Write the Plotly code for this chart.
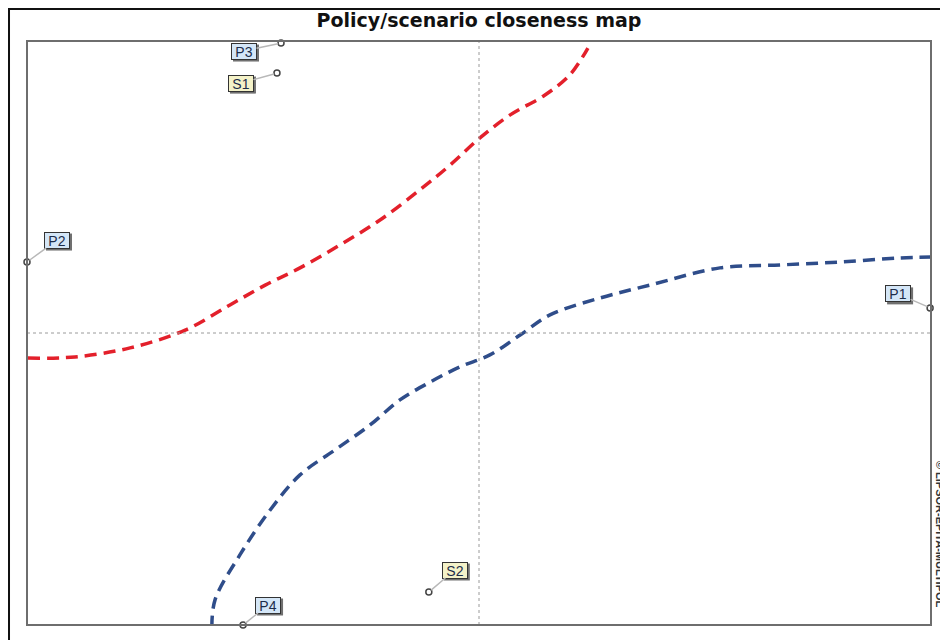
import plotly.graph_objects as go

# ---- data ----
point_names = ["P1", "P2", "P3", "P4", "S1", "S2"]
point_x = [0.998, -1.0, -0.438, -0.522, -0.447, -0.111]
point_y = [0.086, 0.243, 0.993, -1.0, 0.890, -0.887]

red_x = [-0.998, -0.894, -0.772, -0.650, -0.551, -0.473, -0.396, -0.308, -0.219,
         -0.131, -0.064, 0.002, 0.069, 0.146, 0.201, 0.241]
red_y = [-0.086, -0.082, -0.051, 0.010, 0.096, 0.164, 0.223, 0.301, 0.387,
         0.490, 0.575, 0.668, 0.747, 0.815, 0.884, 0.976]

blue_x = [-0.591, -0.584, -0.529, -0.462, -0.396, -0.319, -0.241, -0.175, -0.108,
          -0.042, 0.024, 0.091, 0.157, 0.268, 0.378, 0.533, 0.666, 0.799, 0.931, 1.0]
blue_y = [-1.010, -0.914, -0.760, -0.606, -0.486, -0.401, -0.315, -0.229, -0.168,
          -0.116, -0.075, -0.007, 0.062, 0.120, 0.164, 0.223, 0.233, 0.243, 0.257, 0.260]

title_text = "Policy/scenario closeness map"
copyright_text = "© LIPSOR-EPITA-MULTIPOL"

# ---- style ----
label_offsets = {"P1": (-32, -14), "P2": (30, -22), "P3": (-37, 8),
                 "P4": (25, -20), "S1": (-36, 10), "S2": (26, -22)}
fill_p = "#d4e6f7"
fill_s = "#f4f2c8"
box_w, box_h = 22, 13          # text area of the label boxes
outer_w, outer_h = box_w + 4, box_h + 4

fig = go.Figure()
fig.add_trace(go.Scatter(x=red_x, y=red_y, mode="lines",
                         line=dict(color="#e3202b", width=3.5, dash="12px,7px", shape="spline"),
                         hoverinfo="skip", cliponaxis=False))
fig.add_trace(go.Scatter(x=blue_x, y=blue_y, mode="lines",
                         line=dict(color="#2f4d8a", width=3.5, dash="12px,7px", shape="spline"),
                         hoverinfo="skip", cliponaxis=False))
fig.add_trace(go.Scatter(x=point_x, y=point_y, mode="markers",
                         marker=dict(size=6, color="white", line=dict(color="#444", width=1.5)),
                         cliponaxis=False, hoverinfo="text", text=point_names))

annotations = []
shapes = []
for n, x, y in zip(point_names, point_x, point_y):
    ax, ay = label_offsets[n]
    fill = fill_p if n.startswith("P") else fill_s
    # drop shadow of the label box
    shapes.append(dict(type="rect", xref="x", yref="y",
                       xsizemode="pixel", ysizemode="pixel", xanchor=x, yanchor=y,
                       x0=ax - outer_w / 2 + 2, x1=ax + outer_w / 2 + 2,
                       y0=-ay - outer_h / 2 - 2, y1=-ay + outer_h / 2 - 2,
                       fillcolor="#707070", line=dict(width=0), layer="above"))
    annotations.append(dict(x=x, y=y, xref="x", yref="y", text=n, showarrow=True,
                            ax=ax, ay=ay, axref="pixel", ayref="pixel",
                            arrowhead=0, arrowwidth=1.5, arrowcolor="#b8b8b8", standoff=3,
                            width=box_w, height=box_h, align="center", valign="middle",
                            font=dict(family="Liberation Sans", size=14, color="#1c2c4a"),
                            bgcolor=fill, borderpad=1, borderwidth=1, bordercolor="#333333"))

annotations.append(dict(x=1.010, y=0.156, xref="paper", yref="paper", text="<b>" + copyright_text + "</b>",
                        showarrow=False, textangle=90, xanchor="center", yanchor="middle",
                        font=dict(family="Liberation Sans", size=11, color="#333333")))

shapes += [
    dict(type="line", xref="x", yref="paper", x0=0, x1=0, y0=0, y1=1,
         line=dict(color="#9a9a9a", width=1, dash="dot")),
    dict(type="line", xref="paper", yref="y", x0=0, x1=1, y0=0, y1=0,
         line=dict(color="#9a9a9a", width=1, dash="dot")),
    dict(type="rect", xref="paper", yref="paper", x0=0, x1=1, y0=0, y1=1,
         line=dict(color="#6e6e6e", width=2)),
    dict(type="rect", xref="paper", yref="paper", x0=-0.0199, x1=1.04, y0=-0.05, y1=1.0548,
         line=dict(color="#111111", width=2)),
]

# the page puts the figure 8px from the top-left corner of the window
fig.update_layout(
    width=940, height=632,
    margin=dict(l=19, r=17, t=33, b=15, autoexpand=False),
    paper_bgcolor="white", plot_bgcolor="white",
    showlegend=False,
    title=dict(text="<b>" + title_text + "</b>", x=0.5, xref="paper", y=1 - 12 / 632,
               yref="container", xanchor="center", yanchor="middle",
               font=dict(family="DejaVu Sans", size=19, color="#111111")),
    xaxis=dict(range=[-1, 1], showgrid=False, zeroline=False, showticklabels=False,
               ticks="", fixedrange=True),
    yaxis=dict(range=[-1, 1], showgrid=False, zeroline=False, showticklabels=False,
               ticks="", fixedrange=True),
    annotations=annotations,
    shapes=shapes,
)

fig.write_html("out.html")
